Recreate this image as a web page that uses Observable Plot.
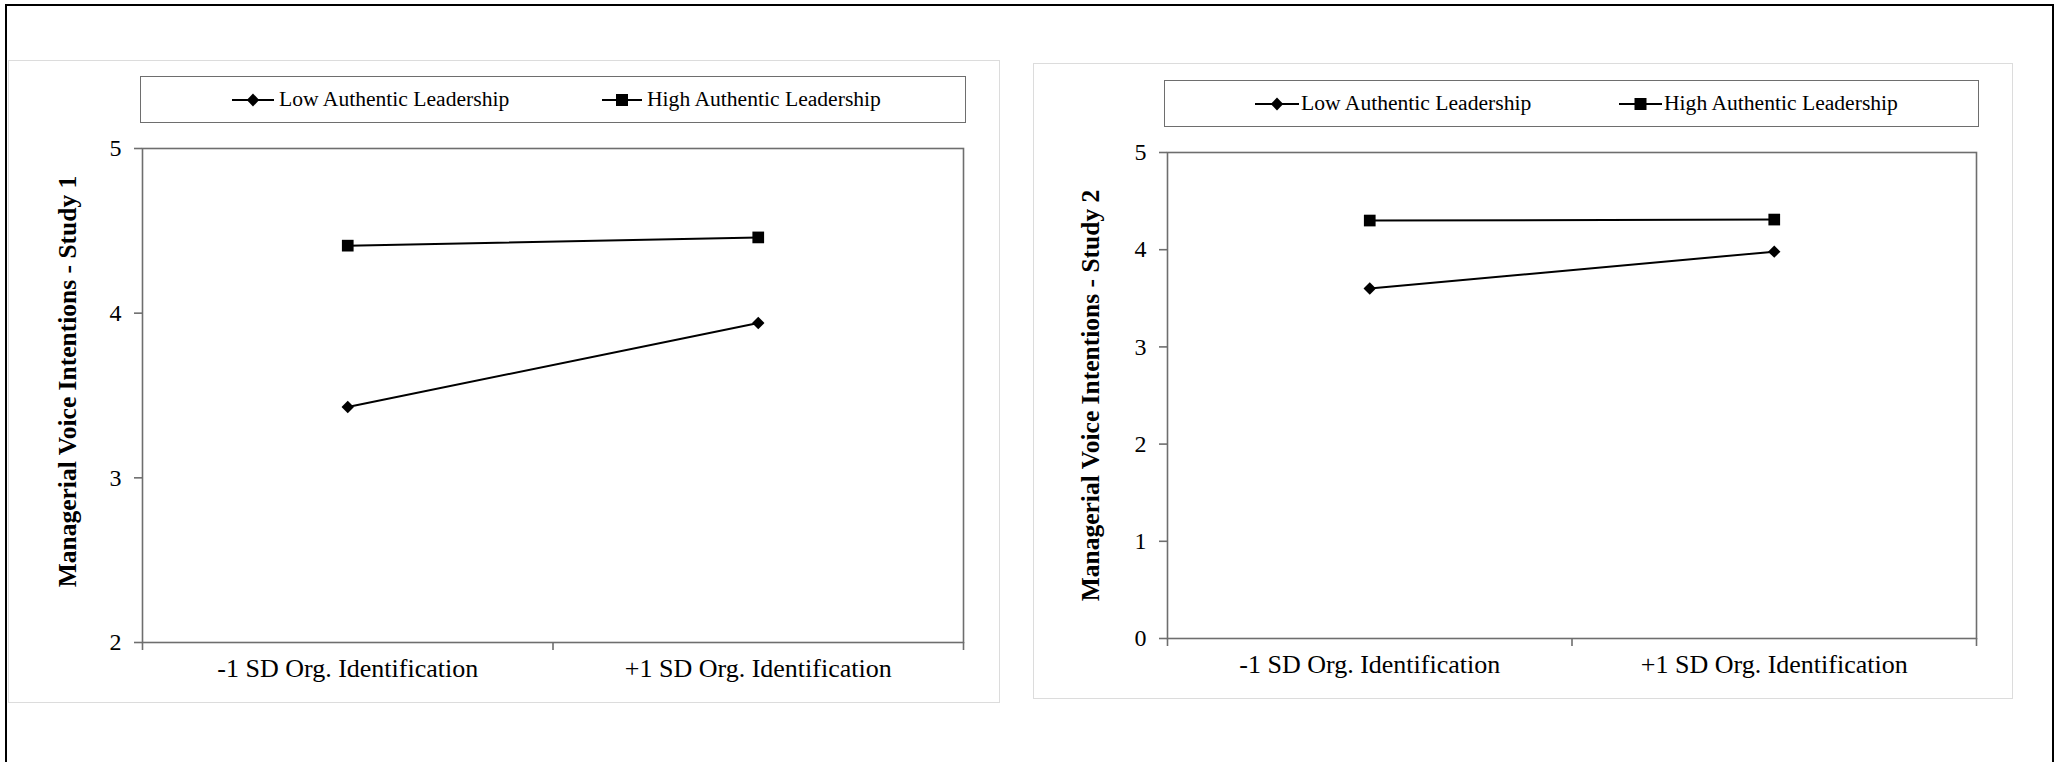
<!DOCTYPE html>
<html><head><meta charset="utf-8">
<script src="https://cdn.jsdelivr.net/npm/d3@7"></script>
<script src="https://cdn.jsdelivr.net/npm/@observablehq/plot@0.6"></script>
<style>
html,body{margin:0;padding:0;background:#fff;width:2063px;height:762px;overflow:hidden;font-family:"Liberation Serif","Times New Roman",serif;}
.frame{position:absolute;left:5px;top:4px;width:2049px;height:840px;border:2px solid #000;box-sizing:border-box;}
.panel{position:absolute;border:1px solid #dcdcdc;box-sizing:border-box;background:#fff;}
.plot{position:absolute;}
.legend{position:absolute;border:1.5px solid #6e6e6e;box-sizing:border-box;background:#fff;}
.item{position:absolute;top:0;height:100%;display:flex;align-items:center;font-size:21.6px;color:#000;white-space:nowrap;}
.sym{position:absolute;top:50%;transform:translateY(-50%);}
</style></head><body>
<div class="frame"></div>
<div id="root"></div>
<script>
const categories = ["-1 SD Org. Identification", "+1 SD Org. Identification"];
const seriesNames = ["Low Authentic Leadership", "High Authentic Leadership"];
const study1Low = [3.43, 3.94];
const study1High = [4.41, 4.46];
const study2Low = [3.60, 3.98];
const study2High = [4.30, 4.31];
const study1Ticks = [2, 3, 4, 5];
const study2Ticks = [0, 1, 2, 3, 4, 5];
const yTitles = ["Managerial Voice Intentions - Study 1", "Managerial Voice Intentions - Study 2"];

const root = document.getElementById("root");
const GRAY = "#6e6e6e";

function makeChart(cfg) {
  const rows = [];
  [cfg.low, cfg.high].forEach((vals, s) =>
    vals.forEach((v, i) => rows.push({pos: i + 0.5, value: v, series: seriesNames[s]})));

  const panel = document.createElement("div");
  panel.className = "panel";
  Object.assign(panel.style, {left: cfg.left + "px", top: cfg.top + "px", width: cfg.w + "px", height: cfg.h + "px"});
  root.appendChild(panel);

  const svg = Plot.plot({
    width: cfg.w, height: cfg.h,
    marginLeft: cfg.ml, marginRight: cfg.mr, marginTop: cfg.mt, marginBottom: cfg.mb,
    style: {fontFamily: "Liberation Serif, Times New Roman, serif", color: "#000", background: "transparent", overflow: "visible"},
    x: {domain: [0, categories.length]},
    y: {domain: cfg.domain},
    marks: [
      Plot.frame({stroke: GRAY, strokeWidth: 1.6}),
      Plot.axisY({ticks: cfg.ticks, tickSize: 8, tickPadding: 13, fontSize: 24, tickFormat: d => String(d), label: null, stroke: GRAY, strokeWidth: 1.6, fill: "#000"}),
      Plot.axisX({ticks: d3.range(categories.length + 1), tickSize: 8, tickFormat: () => "", label: null, stroke: GRAY, strokeWidth: 1.6}),
      Plot.axisX({ticks: categories.map((c, i) => i + 0.5), tickSize: 0, tickPadding: 16, fontSize: 26, label: null,
        tickFormat: d => categories[Math.floor(d)], fill: "#000"}),
      Plot.text([cfg.title], {frameAnchor: "left", textAnchor: "middle", rotate: -90, dx: cfg.tdx, dy: cfg.tdy, fontSize: 25.5, fontWeight: "bold", text: d => d, fill: "#000"}),
      Plot.line(rows, {x: "pos", y: "value", z: "series", stroke: "#000", strokeWidth: 2}),
      Plot.dot(rows.filter(d => d.series === seriesNames[0]), {x: "pos", y: "value", symbol: "diamond2", fill: "#000", stroke: null, r: 5.6}),
      Plot.dot(rows.filter(d => d.series === seriesNames[1]), {x: "pos", y: "value", symbol: "square", fill: "#000", stroke: null, r: 6.6})
    ]
  });
  svg.classList.add("plot");
  svg.style.left = cfg.left + "px";
  svg.style.top = cfg.top + "px";
  root.appendChild(svg);

  // legend
  const lg = document.createElement("div");
  lg.className = "legend";
  Object.assign(lg.style, {left: cfg.lg.x + "px", top: cfg.lg.y + "px", width: cfg.lg.w + "px", height: cfg.lg.h + "px"});
  seriesNames.forEach((name, s) => {
    const it = cfg.lg.items[s];
    const symW = it.tx - it.sx;
    const sym = document.createElementNS("http://www.w3.org/2000/svg", "svg");
    sym.setAttribute("width", symW); sym.setAttribute("height", 16);
    sym.setAttribute("class", "sym");
    sym.style.left = (it.sx - cfg.lg.x) + "px";
    const c = (it.lx1 - it.sx + it.lx0 - it.sx) / 2;
    let m;
    if (s === 0) m = `<path d="M${c},1.5L${c + 6.2},8L${c},14.5L${c - 6.2},8Z" fill="#000"/>`;
    else m = `<rect x="${c - 6}" y="2" width="12" height="12" fill="#000"/>`;
    sym.innerHTML = `<line x1="${it.lx0 - it.sx}" x2="${it.lx1 - it.sx}" y1="8" y2="8" stroke="#000" stroke-width="2"/>` + m;
    lg.appendChild(sym);
    const t = document.createElement("div");
    t.className = "item";
    t.style.left = (it.tx - cfg.lg.x) + "px";
    t.textContent = name;
    lg.appendChild(t);
  });
  root.appendChild(lg);
}

makeChart({
  left: 8, top: 60, w: 992, h: 643, ml: 134, mr: 37, mt: 88, mb: 61,
  domain: [2, 5], ticks: study1Ticks, low: study1Low, high: study1High,
  title: yTitles[0], tdx: -75, tdy: -14,
  lg: {x: 140, y: 76, w: 826, h: 47, items: [
    {sx: 229, lx0: 231, lx1: 273, tx: 278},
    {sx: 599, lx0: 601, lx1: 641, tx: 646}
  ]}
});
makeChart({
  left: 1033, top: 63, w: 980, h: 636, ml: 134, mr: 37, mt: 89, mb: 61,
  domain: [0, 5], ticks: study2Ticks, low: study2Low, high: study2High,
  title: yTitles[1], tdx: -77, tdy: 0,
  lg: {x: 1164, y: 80, w: 815, h: 47, items: [
    {sx: 1252, lx0: 1254, lx1: 1298, tx: 1300},
    {sx: 1616, lx0: 1618, lx1: 1661, tx: 1663}
  ]}
});
</script>
</body></html>
